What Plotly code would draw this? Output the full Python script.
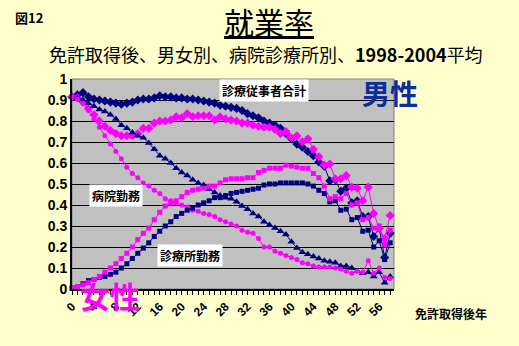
import plotly.graph_objects as go

years = list(range(0, 59))

male_total = [0.915, 0.925, 0.935, 0.915, 0.905, 0.90, 0.895, 0.89, 0.885, 0.88,
              0.885, 0.89, 0.90, 0.905, 0.905, 0.91, 0.92, 0.915, 0.915, 0.91,
              0.91, 0.905, 0.905, 0.90, 0.895, 0.89, 0.885, 0.875, 0.87, 0.865,
              0.86, 0.85, 0.835, 0.825, 0.815, 0.80, 0.79, 0.78, 0.765, 0.74,
              0.715, 0.69, 0.675, 0.655, 0.635, 0.605, 0.585, 0.515, 0.52, 0.465,
              0.48, 0.41, 0.42, 0.345, 0.345, 0.25, 0.29, 0.15, 0.265]

female_total = [0.915, 0.91, 0.89, 0.86, 0.83, 0.80, 0.775, 0.755, 0.74, 0.73,
                0.73, 0.73, 0.74, 0.765, 0.765, 0.79, 0.80, 0.80, 0.805, 0.82,
                0.815, 0.835, 0.82, 0.825, 0.825, 0.825, 0.805, 0.82, 0.81, 0.805,
                0.80, 0.79, 0.79, 0.78, 0.775, 0.77, 0.77, 0.76, 0.74, 0.75,
                0.72, 0.73, 0.70, 0.715, 0.665, 0.63, 0.59, 0.595, 0.525, 0.525,
                0.54, 0.485, 0.48, 0.42, 0.485, 0.36, 0.29, 0.24, 0.35]

male_hospital = [0.915, 0.91, 0.90, 0.885, 0.87, 0.855, 0.845, 0.83, 0.81, 0.78,
                 0.765, 0.745, 0.73, 0.72, 0.695, 0.665, 0.635, 0.62, 0.60, 0.575,
                 0.555, 0.54, 0.52, 0.505, 0.495, 0.475, 0.46, 0.445, 0.435, 0.43,
                 0.415, 0.395, 0.38, 0.36, 0.345, 0.32, 0.305, 0.29, 0.275, 0.26,
                 0.225, 0.195, 0.175, 0.165, 0.155, 0.145, 0.135, 0.13, 0.125, 0.11,
                 0.11, 0.10, 0.085, 0.075, 0.08, 0.06, 0.08, 0.03, 0.06]

female_hospital = [0.915, 0.905, 0.885, 0.85, 0.81, 0.77, 0.73, 0.69, 0.655, 0.62,
                   0.58, 0.55, 0.53, 0.505, 0.49, 0.47, 0.455, 0.43, 0.42, 0.41,
                   0.40, 0.39, 0.375, 0.37, 0.36, 0.355, 0.345, 0.33, 0.32, 0.31,
                   0.30, 0.28, 0.27, 0.265, 0.24, 0.20, 0.20, 0.18, 0.17, 0.16,
                   0.15, 0.14, 0.125, 0.12, 0.11, 0.105, 0.105, 0.105, 0.10, 0.095,
                   0.085, 0.075, 0.085, 0.08, 0.135, 0.075, 0.10, 0.055, 0.05]

male_clinic = [0.005, 0.01, 0.025, 0.04, 0.045, 0.055, 0.06, 0.07, 0.08, 0.10,
               0.12, 0.145, 0.17, 0.195, 0.22, 0.25, 0.275, 0.30, 0.32, 0.345,
               0.36, 0.375, 0.385, 0.40, 0.41, 0.42, 0.435, 0.435, 0.445, 0.455,
               0.46, 0.465, 0.47, 0.475, 0.48, 0.495, 0.50, 0.50, 0.505, 0.505,
               0.505, 0.505, 0.505, 0.50, 0.49, 0.47, 0.455, 0.415, 0.42, 0.375,
               0.38, 0.33, 0.34, 0.275, 0.28, 0.20, 0.23, 0.14, 0.22]

female_clinic = [0.005, 0.01, 0.02, 0.03, 0.045, 0.06, 0.08, 0.10, 0.12, 0.145,
                 0.17, 0.20, 0.235, 0.265, 0.29, 0.33, 0.365, 0.395, 0.41, 0.42,
                 0.44, 0.46, 0.47, 0.475, 0.48, 0.49, 0.49, 0.505, 0.52, 0.525,
                 0.525, 0.525, 0.53, 0.53, 0.555, 0.565, 0.575, 0.575, 0.575, 0.59,
                 0.585, 0.58, 0.575, 0.575, 0.55, 0.53, 0.49, 0.43, 0.44, 0.43,
                 0.455, 0.40, 0.41, 0.33, 0.34, 0.29, 0.30, 0.21, 0.28]

x_tick_vals = list(range(0, 57, 4))
x_tick_labels = [str(v) for v in x_tick_vals]
y_tick_vals = [0, 0.1, 0.2, 0.3, 0.4, 0.5, 0.6, 0.7, 0.8, 0.9, 1]
y_tick_labels = ["0", "0.1", "0.2", "0.3", "0.4", "0.5", "0.6", "0.7", "0.8", "0.9", "1"]

NAVY = "#000080"
MAG = "#FF00FF"
JP = "Noto Sans CJK JP"

series = [
    ("男性 診療従事者合計", male_total, NAVY, "diamond", 7),
    ("女性 診療従事者合計", female_total, MAG, "diamond", 7),
    ("男性 病院勤務", male_hospital, NAVY, "triangle-up", 7),
    ("女性 病院勤務", female_hospital, MAG, "circle", 5),
    ("男性 診療所勤務", male_clinic, NAVY, "square", 5),
    ("女性 診療所勤務", female_clinic, MAG, "square", 5),
]

fig = go.Figure()
for name, vals, col, sym, sz in series:
    fig.add_trace(go.Scatter(
        x=years, y=vals, name=name, mode="lines+markers",
        line=dict(color=col, width=1),
        marker=dict(color=col, symbol=sym, size=sz, line=dict(width=0)),
        cliponaxis=False,
    ))

fig.update_layout(
    width=519, height=346,
    margin=dict(l=72, r=125, t=79, b=57),
    paper_bgcolor="#FFFFCC",
    plot_bgcolor="#C0C0C0",
    showlegend=False,
    font=dict(family=JP, color="black"),
    xaxis=dict(
        range=[0, 58.7], tickmode="array", tickvals=x_tick_vals, ticktext=x_tick_labels,
        tickangle=-45, ticks="outside", ticklen=4, tickcolor="black",
        minor=dict(dtick=1, tick0=0, ticks="outside", ticklen=4, tickcolor="black", showgrid=False),
        showgrid=False, zeroline=False, showline=True, linecolor="black", linewidth=2,
        tickfont=dict(family="Liberation Sans", size=12, weight="bold", color="black"),
    ),
    yaxis=dict(
        range=[0, 1], tickmode="array", tickvals=y_tick_vals, ticktext=y_tick_labels,
        showgrid=True, gridcolor="black", gridwidth=1, zeroline=False,
        showline=True, linecolor="black", linewidth=2, ticks="",
        tickfont=dict(family="Liberation Sans", size=14, weight="bold", color="black"),
    ),
    shapes=[
        dict(type="rect", xref="paper", yref="paper", x0=0, x1=1, y0=0, y1=1,
             line=dict(color="#808080", width=1), layer="below"),
    ],
)


def px_x(v):
    return (v - 72) / (394 - 72)


def px_y(v):
    return (289 - v) / (289 - 79)


annotations = [
    ("<b>図12</b>", 13, 18, "left", 13),
    ("<u>就業率</u>", 269, 21, "center", 30),
    ("免許取得後、男女別、病院診療所別、<b>1998-2004</b>平均", 266, 54.5, "center", 18),
    ("<b>免許取得後年</b>", 451, 313, "center", 12),
]
for t, ax, ay, anc, sz in annotations:
    fig.add_annotation(
        text=t, xref="paper", yref="paper", x=px_x(ax), y=px_y(ay),
        xanchor=anc, yanchor="middle", showarrow=False,
        font=dict(family=JP, size=sz, color="black"),
    )

boxes = [
    ("診療従事者合計", 263.5, 90.5),
    ("病院勤務", 115.5, 195.5),
    ("診療所勤務", 190, 255),
]
for t, bx, by in boxes:
    fig.add_annotation(
        text="<b>" + t + "</b>", xref="paper", yref="paper",
        x=px_x(bx), y=px_y(by),
        xanchor="center", yanchor="middle", showarrow=False,
        bgcolor="white", borderpad=2,
        font=dict(family=JP, size=12, color="black"),
    )

big = [
    ("男性", 390, 93, "#0A2F99", 28),
    ("女性", 110, 295, MAG, 30),
]
for t, bx, by, col, sz in big:
    fig.add_annotation(
        text="<b>" + t + "</b>", xref="paper", yref="paper",
        x=px_x(bx), y=px_y(by),
        xanchor="center", yanchor="middle", showarrow=False,
        font=dict(family=JP, size=sz, color=col),
    )

fig.write_html("out.html")
